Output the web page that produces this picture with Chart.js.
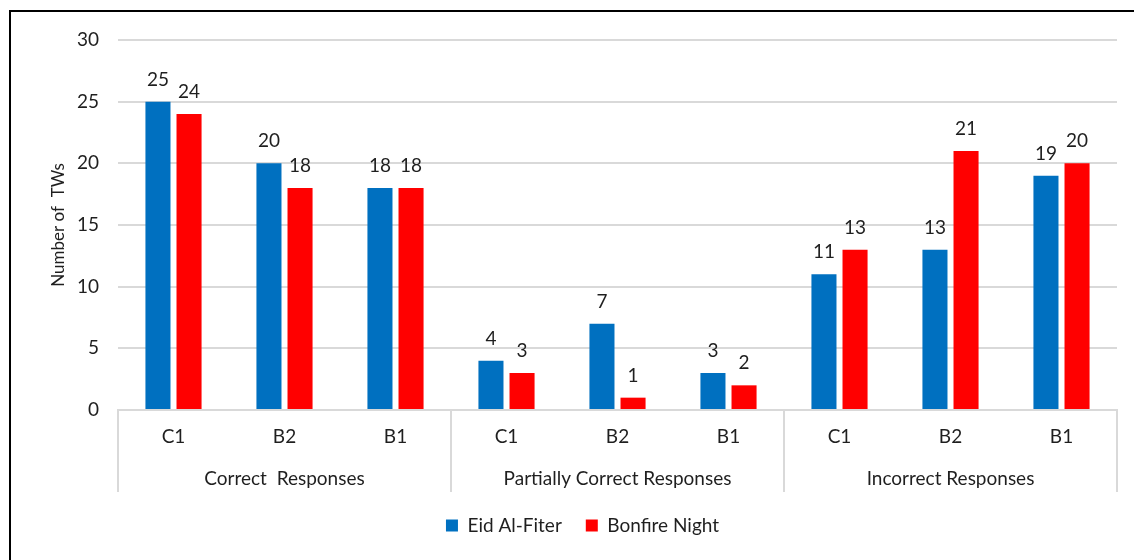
<!DOCTYPE html>
<html>
<head>
<meta charset="utf-8">
<script src="https://cdn.jsdelivr.net/npm/chart.js@4.4.1/dist/chart.umd.min.js"></script>
<style>
  html, body { margin: 0; padding: 0; background: #fff; }
  #wrap { position: relative; width: 1134px; height: 560px; overflow: hidden; }
  #frame { position: absolute; left: 9px; top: 10px; width: 1200px; height: 600px;
           border-left: 2px solid #000; border-top: 2px solid #000; box-sizing: border-box; }
  canvas { position: absolute; left: 0; top: 0; }
</style>
</head>
<body>
<div id="wrap">
  <div id="frame"></div>
  <canvas id="chart" width="1134" height="560"></canvas>
</div>
<script>
// Proficiency levels within each response type
const levels = ['C1', 'B2', 'B1', 'C1', 'B2', 'B1', 'C1', 'B2', 'B1'];
// Response types, three levels each
const groups = ['Correct  Responses', 'Partially Correct Responses', 'Incorrect Responses'];
// Number of TWs per level, per text
const eidAlFiter = [25, 20, 18, 4, 7, 3, 11, 13, 19];
const bonfireNight = [24, 18, 18, 3, 1, 2, 13, 21, 20];
const yTicks = [0, 5, 10, 15, 20, 25, 30];

const FONT = 'Lato, "Open Sans", sans-serif';
const TEXT = '#1f1f1f';
const GRID = '#d9d9d9';
const SIZE = 19;

// Value labels above each bar
const valueLabels = {
  id: 'valueLabels',
  afterDatasetsDraw(chart) {
    const ctx = chart.ctx;
    ctx.save();
    ctx.font = SIZE + 'px ' + FONT;
    ctx.fillStyle = TEXT;
    ctx.textAlign = 'center';
    ctx.textBaseline = 'alphabetic';
    chart.data.datasets.forEach((ds, i) => {
      chart.getDatasetMeta(i).data.forEach((bar, j) => {
        ctx.fillText(String(ds.data[j]), bar.x, bar.y - 16);
      });
    });
    ctx.restore();
  }
};

// Vertical separators between response types, below the plot
const groupDividers = {
  id: 'groupDividers',
  afterDraw(chart) {
    const g = chart.scales.group;
    const sub = chart.scales.x;
    const ctx = chart.ctx;
    ctx.save();
    ctx.strokeStyle = GRID;
    ctx.lineWidth = 2;
    for (let i = 0; i <= groups.length; i++) {
      const x = Math.round(g.getPixelForValue(i - 0.5));
      ctx.beginPath();
      ctx.moveTo(x, sub.top);
      ctx.lineTo(x, g.bottom);
      ctx.stroke();
    }
    ctx.restore();
  }
};

new Chart(document.getElementById('chart'), {
  type: 'bar',
  data: {
    labels: levels,
    datasets: [
      { label: 'Eid Al-Fiter', data: eidAlFiter, backgroundColor: '#0070C0' },
      { label: 'Bonfire Night', data: bonfireNight, backgroundColor: '#FF0000' }
    ]
  },
  options: {
    responsive: false,
    animation: false,
    devicePixelRatio: 1,
    barPercentage: 0.806,
    categoryPercentage: 0.56,
    layout: { padding: { left: 48, right: 17, top: 40, bottom: 15 } },
    plugins: {
      tooltip: { enabled: false },
      legend: {
        position: 'bottom',
        labels: {
          font: { family: FONT, size: SIZE },
          color: TEXT,
          boxWidth: 12,
          boxHeight: 12,
          padding: 24
        }
      }
    },
    scales: {
      y: {
        min: 0,
        max: 30,
        afterBuildTicks(scale) { scale.ticks = yTicks.map(v => ({ value: v })); },
        afterFit(scale) { scale.width = 70; },
        border: { display: false },
        grid: { color: GRID, lineWidth: 2, drawTicks: false },
        ticks: { font: { family: FONT, size: SIZE }, color: TEXT, padding: 19 },
        title: {
          display: true,
          text: 'Number of  TWs',
          font: { family: FONT, size: 17 },
          color: TEXT,
          padding: { top: 0, bottom: 0 }
        }
      },
      x: {
        weight: 0,
        afterFit(scale) { scale.height = 40; },
        border: { display: true, color: GRID, width: 2 },
        grid: { display: false, drawTicks: false },
        ticks: { font: { family: FONT, size: SIZE }, color: TEXT, padding: 15, maxRotation: 0, autoSkip: false }
      },
      group: {
        type: 'category',
        position: 'bottom',
        weight: 1,
        labels: groups,
        offset: true,
        afterFit(scale) { scale.height = 42; },
        border: { display: false },
        grid: { display: false, drawTicks: false },
        ticks: { font: { family: FONT, size: SIZE }, color: TEXT, padding: 17, maxRotation: 0, autoSkip: false }
      }
    }
  },
  plugins: [valueLabels, groupDividers]
});
</script>
</body>
</html>
